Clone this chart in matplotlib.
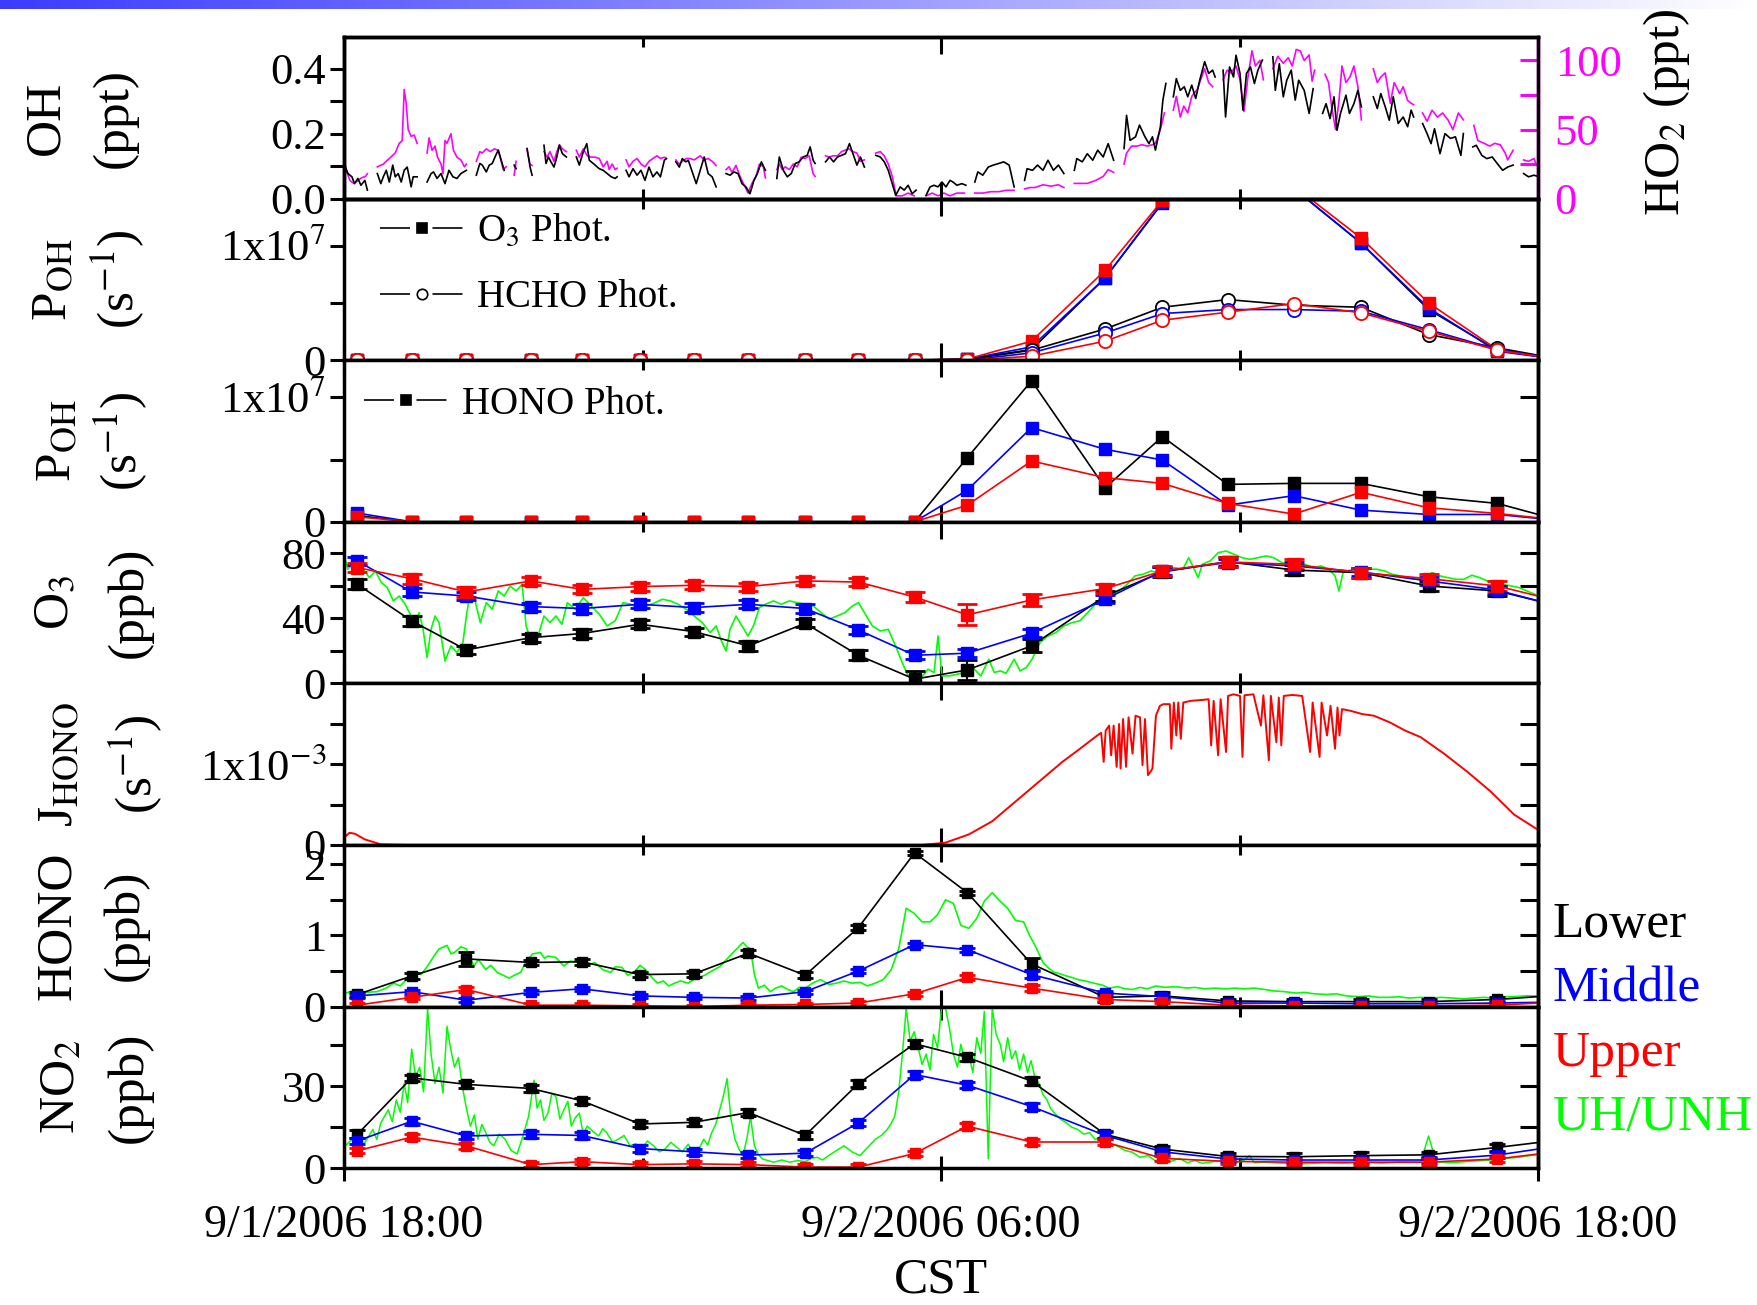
import numpy as np
import matplotlib.pyplot as plt
from matplotlib.lines import Line2D
from matplotlib.ticker import NullFormatter
from matplotlib.colors import LinearSegmentedColormap

plt.rcParams['font.family'] = ['Liberation Serif', 'DejaVu Serif']
plt.rcParams['mathtext.fontset'] = 'stix'

BLACK = 'black'
BLUE = '#0000ff'
RED = '#ff0000'
GREEN = '#00ff00'
MAGENTA = '#ff00ff'

# x axis: hours after 9/1/2006 18:00 CST
t_pts = [0.27, 1.36, 2.46, 3.76, 4.78, 5.95, 7.03, 8.13, 9.27, 10.34, 11.47,
         12.53, 13.82, 15.30, 16.45, 17.76, 19.09, 20.44, 21.80, 23.18, 24.55]

# ---- OH (ppt) and HO2 (ppt), segments separated by data gaps ----
oh_segments = [
    [(0.00, 0.108), (0.08, 0.077), (0.16, 0.067), (0.21, 0.046), (0.28, 0.062), (0.34, 0.041), (0.42, 0.056), (0.47, 0.026)],
    [(0.67, 0.077), (0.74, 0.046), (0.79, 0.067), (0.85, 0.087), (0.91, 0.051), (0.98, 0.103), (1.03, 0.067), (1.09, 0.077),
     (1.15, 0.051), (1.21, 0.087), (1.27, 0.097), (1.31, 0.067), (1.35, 0.036), (1.39, 0.067), (1.47, 0.067)],
    [(1.67, 0.051), (1.75, 0.077), (1.80, 0.082), (1.87, 0.062), (1.95, 0.077), (2.03, 0.046), (2.11, 0.087), (2.19, 0.067),
     (2.27, 0.062), (2.35, 0.077), (2.46, 0.087)],
    [(2.66, 0.072), (2.73, 0.108), (2.78, 0.103), (2.86, 0.082), (2.92, 0.103), (2.98, 0.108), (3.05, 0.133), (3.10, 0.149),
     (3.16, 0.118), (3.22, 0.087)],
    [(3.42, 0.103), (3.46, 0.092)],
    [(3.68, 0.154), (3.74, 0.097), (3.78, 0.072)],
    [(4.02, 0.164), (4.06, 0.108), (4.11, 0.128), (4.16, 0.113), (4.22, 0.097), (4.27, 0.123), (4.33, 0.164), (4.39, 0.138), (4.47, 0.128)],
    [(4.67, 0.128), (4.73, 0.103), (4.81, 0.144), (4.88, 0.169), (4.93, 0.118), (5.01, 0.108), (5.13, 0.092), (5.21, 0.087),
     (5.29, 0.077), (5.37, 0.067), (5.45, 0.062), (5.49, 0.067)],
    [(5.67, 0.087), (5.73, 0.067), (5.81, 0.092), (5.89, 0.072), (5.97, 0.087), (6.05, 0.056), (6.13, 0.097), (6.21, 0.067),
     (6.29, 0.082), (6.36, 0.067), (6.44, 0.118), (6.48, 0.123)],
    [(6.67, 0.113), (6.74, 0.097), (6.80, 0.123), (6.87, 0.113), (6.92, 0.118), (7.00, 0.082), (7.08, 0.046), (7.16, 0.087),
     (7.24, 0.128), (7.32, 0.077), (7.40, 0.067), (7.48, 0.036)],
    [(7.68, 0.077), (7.76, 0.072), (7.84, 0.082), (7.92, 0.077), (8.00, 0.046), (8.08, 0.036), (8.16, 0.015), (8.24, 0.056),
     (8.31, 0.077), (8.39, 0.113), (8.47, 0.087)],
    [(8.70, 0.062), (8.75, 0.128), (8.83, 0.087), (8.91, 0.067), (8.99, 0.077), (9.07, 0.108), (9.15, 0.113), (9.23, 0.128),
     (9.31, 0.133), (9.37, 0.159), (9.43, 0.118), (9.47, 0.108)],
    [(9.68, 0.113), (9.76, 0.128), (9.84, 0.113), (9.92, 0.128), (10.00, 0.133), (10.08, 0.138), (10.16, 0.169), (10.23, 0.138),
     (10.31, 0.103), (10.38, 0.128), (10.46, 0.097)],
    [(10.69, 0.133), (10.78, 0.128), (10.86, 0.113), (10.94, 0.087), (11.02, 0.046), (11.09, 0.010), (11.18, 0.036), (11.26, 0.026),
     (11.34, 0.041), (11.42, 0.015), (11.50, 0.026)],
    [(11.70, 0.010), (11.78, 0.036), (11.86, 0.041), (11.94, 0.036), (12.02, 0.051), (12.10, 0.036), (12.18, 0.056), (12.24, 0.051),
     (12.32, 0.041), (12.42, 0.046), (12.50, 0.041)],
    [(12.68, 0.051), (12.74, 0.082), (12.84, 0.072), (12.95, 0.097), (13.05, 0.103), (13.16, 0.108), (13.26, 0.113), (13.37, 0.103), (13.47, 0.036)],
    [(13.68, 0.056), (13.73, 0.092), (13.84, 0.087), (13.94, 0.103), (14.05, 0.087), (14.15, 0.118), (14.26, 0.087), (14.36, 0.103), (14.47, 0.077)],
    [(14.68, 0.087), (14.73, 0.123), (14.84, 0.113), (14.94, 0.138), (15.05, 0.118), (15.15, 0.149), (15.26, 0.128), (15.36, 0.169), (15.47, 0.118)],
    [(15.68, 0.154), (15.73, 0.256), (15.80, 0.179), (15.91, 0.190), (15.99, 0.226), (16.10, 0.190), (16.18, 0.169), (16.25, 0.190),
     (16.31, 0.149), (16.41, 0.221), (16.46, 0.303), (16.52, 0.354)],
    [(16.67, 0.313), (16.73, 0.369), (16.81, 0.333), (16.89, 0.344), (16.96, 0.313), (17.04, 0.349), (17.12, 0.308), (17.20, 0.364),
     (17.30, 0.421), (17.38, 0.385), (17.46, 0.395), (17.51, 0.374)],
    [(17.67, 0.395), (17.72, 0.251), (17.80, 0.405), (17.88, 0.374), (17.93, 0.441), (18.01, 0.385), (18.07, 0.272), (18.14, 0.385),
     (18.22, 0.405), (18.30, 0.354), (18.37, 0.395), (18.46, 0.426)],
    [(18.67, 0.436), (18.72, 0.333), (18.80, 0.415), (18.88, 0.313), (18.95, 0.364), (19.04, 0.395), (19.12, 0.303), (19.19, 0.364),
     (19.30, 0.333), (19.40, 0.262), (19.48, 0.338)],
    [(19.67, 0.262), (19.74, 0.292), (19.82, 0.246), (19.90, 0.313), (19.96, 0.210), (20.03, 0.262), (20.14, 0.318), (20.21, 0.262),
     (20.30, 0.292), (20.38, 0.333), (20.45, 0.282)],
    [(20.69, 0.313), (20.77, 0.277), (20.84, 0.323), (20.93, 0.282), (21.01, 0.241), (21.09, 0.313), (21.19, 0.231), (21.29, 0.251),
     (21.38, 0.221), (21.45, 0.272), (21.50, 0.251)],
    [(21.68, 0.231), (21.77, 0.200), (21.85, 0.169), (21.92, 0.215), (22.03, 0.138), (22.13, 0.200), (22.24, 0.185), (22.34, 0.190),
     (22.45, 0.133), (22.50, 0.200)],
    [(22.69, 0.159), (22.76, 0.164), (22.87, 0.133), (22.97, 0.123), (23.08, 0.128), (23.18, 0.108), (23.29, 0.087), (23.39, 0.097), (23.50, 0.103)],
    [(23.71, 0.077), (23.81, 0.067), (23.92, 0.072), (24.02, 0.067)],
]

ho2_segments = [
    [(0.00, 30), (0.04, 21), (0.12, 13), (0.20, 11), (0.28, 13), (0.35, 15), (0.43, 16), (0.47, 18)],
    [(0.67, 23), (0.79, 25), (0.91, 29), (1.03, 33), (1.11, 40), (1.17, 42), (1.21, 79), (1.25, 69), (1.29, 50), (1.35, 45),
     (1.41, 46), (1.47, 40)],
    [(1.67, 33), (1.71, 44), (1.77, 35), (1.83, 38), (1.88, 30), (1.95, 25), (1.99, 18), (2.03, 42), (2.07, 40), (2.15, 47),
     (2.20, 35), (2.27, 30), (2.35, 28), (2.42, 23), (2.46, 25)],
    [(2.66, 27), (2.73, 34), (2.78, 33), (2.86, 36), (2.94, 34), (3.02, 36), (3.10, 35), (3.16, 27), (3.20, 21), (3.26, 23)],
    [(3.42, 17), (3.46, 27)],
    [(3.68, 35), (3.74, 25), (3.78, 24)],
    [(4.02, 34), (4.08, 30), (4.14, 34), (4.22, 27), (4.27, 33), (4.33, 39), (4.39, 36), (4.47, 34)],
    [(4.67, 35), (4.73, 30), (4.81, 36), (4.89, 31), (4.97, 30), (5.05, 30), (5.13, 29), (5.21, 23), (5.29, 27), (5.33, 21),
     (5.39, 25), (5.45, 21), (5.49, 22)],
    [(5.67, 28), (5.73, 23), (5.81, 27), (5.89, 29), (5.97, 25), (6.05, 23), (6.13, 27), (6.21, 29), (6.29, 31), (6.36, 29),
     (6.44, 30), (6.48, 29)],
    [(6.67, 28), (6.74, 25), (6.80, 27), (6.88, 29), (6.96, 29), (7.04, 28), (7.16, 31), (7.24, 28), (7.32, 29), (7.40, 27), (7.48, 24)],
    [(7.68, 21), (7.74, 23), (7.80, 19), (7.88, 24), (7.96, 16), (8.04, 10), (8.12, 4), (8.20, 11), (8.28, 16), (8.35, 25),
     (8.43, 23), (8.47, 15)],
    [(8.70, 21), (8.75, 25), (8.81, 21), (8.87, 23), (8.95, 21), (9.03, 25), (9.11, 23), (9.19, 30), (9.27, 29), (9.35, 31),
     (9.43, 18), (9.47, 16)],
    [(9.68, 31), (9.75, 30), (9.83, 31), (9.92, 31), (10.00, 34), (10.07, 35), (10.15, 36), (10.23, 34), (10.31, 33), (10.38, 27), (10.46, 28)],
    [(10.69, 33), (10.78, 34), (10.86, 31), (10.94, 25), (11.02, 16), (11.10, 2), (11.22, 2), (11.34, 4), (11.46, 2)],
    [(11.70, 2), (11.82, 4), (11.94, 2), (12.06, 4), (12.18, 2), (12.32, 4), (12.47, 4)],
    [(12.68, 4), (12.84, 4), (13.00, 5), (13.16, 5), (13.31, 6), (13.47, 6)],
    [(13.68, 7), (13.79, 8), (13.89, 8), (14.05, 10), (14.21, 9), (14.36, 10), (14.47, 8)],
    [(14.68, 11), (14.78, 11), (14.94, 11), (15.10, 13), (15.26, 16), (15.36, 21), (15.47, 19)],
    [(15.68, 25), (15.73, 33), (15.83, 38), (15.94, 38), (16.04, 39), (16.15, 38), (16.25, 39), (16.31, 40), (16.41, 50), (16.49, 62)],
    [(16.67, 64), (16.73, 74), (16.81, 59), (16.88, 67), (16.96, 62), (17.04, 74), (17.15, 79), (17.22, 86), (17.30, 94),
     (17.38, 84), (17.46, 81)],
    [(17.67, 86), (17.75, 93), (17.83, 91), (17.93, 96), (18.01, 86), (18.09, 63), (18.17, 88), (18.25, 107), (18.32, 96),
     (18.41, 100), (18.48, 86)],
    [(18.67, 94), (18.77, 103), (18.88, 98), (18.98, 102), (19.06, 96), (19.14, 108), (19.22, 107), (19.30, 100), (19.40, 104),
     (19.46, 85), (19.51, 93)],
    [(19.72, 90), (19.79, 84), (19.85, 67), (19.93, 50), (20.00, 71), (20.06, 96), (20.14, 84), (20.22, 88), (20.30, 96),
     (20.38, 81), (20.45, 57)],
    [(20.69, 94), (20.77, 84), (20.84, 88), (20.93, 91), (21.03, 69), (21.11, 84), (21.22, 76), (21.29, 81), (21.38, 71),
     (21.45, 69), (21.50, 68)],
    [(21.68, 62), (21.77, 56), (21.87, 64), (21.98, 59), (22.08, 62), (22.19, 57), (22.29, 50), (22.40, 62), (22.50, 57)],
    [(22.71, 53), (22.79, 42), (22.92, 40), (23.03, 38), (23.13, 40), (23.24, 39), (23.34, 33), (23.39, 28), (23.50, 35)],
    [(23.71, 28), (23.81, 27), (23.92, 29), (23.97, 24)],
]

# ---- P_OH from O3 and HCHO photolysis (units of 1e7 s^-1) ----
o3phot_lower = [0, 0, 0, 0, 0, 0, 0, 0, 0, 0, 0, 0.01, 0.093, 0.718, 1.372, 1.62, 1.50, 1.023, 0.442, 0.087, 0.0]
o3phot_middle = [0, 0, 0, 0, 0, 0, 0, 0, 0, 0, 0, 0.01, 0.116, 0.718, 1.378, 1.62, 1.50, 1.023, 0.456, 0.078, 0.0]
o3phot_upper = [0, 0, 0, 0, 0, 0, 0, 0, 0, 0, 0, 0.01, 0.166, 0.785, 1.395, 1.65, 1.52, 1.067, 0.500, 0.093, 0.0]
hcho_lower = [0, 0, 0, 0, 0, 0, 0, 0, 0, 0, 0, 0.006, 0.087, 0.273, 0.462, 0.529, 0.48, 0.462, 0.224, 0.108, 0.0]
hcho_middle = [0, 0, 0, 0, 0, 0, 0, 0, 0, 0, 0, 0.0, 0.064, 0.238, 0.407, 0.442, 0.442, 0.427, 0.267, 0.093, 0.0]
hcho_upper = [0, 0, 0, 0, 0, 0, 0, 0, 0, 0, 0, 0.0, 0.035, 0.166, 0.349, 0.419, 0.494, 0.413, 0.253, 0.087, 0.0]

# ---- P_OH from HONO photolysis (units of 1e7 s^-1) ----
honophot_lower = [0.05, 0, 0, 0, 0, 0, 0, 0, 0, 0, 0, 0.516, 1.134, 0.274, 0.685, 0.301, 0.309, 0.309, 0.202, 0.148, 0.0]
honophot_middle = [0.07, 0, 0, 0, 0, 0, 0, 0, 0, 0, 0, 0.255, 0.758, 0.583, 0.497, 0.134, 0.210, 0.094, 0.059, 0.059, 0.006]
honophot_upper = [0.04, 0, 0, 0, 0, 0, 0, 0, 0, 0, 0, 0.134, 0.489, 0.355, 0.309, 0.148, 0.062, 0.237, 0.113, 0.067, 0.009]

# ---- O3 (ppb) ----
o3_lower = [61.0, 38.5, 20.6, 28.2, 30.7, 36.4, 31.9, 23.1, 37.0, 17.3, 2.6, 8.3, 23.1, 53.8, 68.6, 75.0, 69.8, 68.2, 60.0, 56.9, 46.7]
o3_middle = [75.4, 56.3, 53.8, 47.3, 46.1, 48.7, 46.7, 48.7, 46.1, 32.9, 17.3, 18.6, 30.9, 51.8, 69.2, 74.4, 72.3, 68.6, 63.1, 57.5, 46.3]
o3_upper = [71.3, 64.5, 56.3, 63.1, 57.9, 59.6, 60.4, 59.6, 63.1, 62.4, 53.2, 42.2, 51.4, 58.4, 69.2, 74.8, 73.3, 68.2, 64.5, 60.0, 49.6]
o3_lower_err = [3, 3, 2.5, 2.5, 2.5, 2.5, 2.5, 3, 2.5, 3, 5, 6, 4, 3, 3, 3, 3, 3, 3, 3, 3]
o3_middle_err = [2.5, 2.5, 2.5, 2.5, 2.5, 2.5, 2.5, 2.5, 2.5, 2.5, 2.5, 2.5, 2.5, 2.5, 2.5, 2.5, 2.5, 2.5, 2.5, 2.5, 2.5]
o3_upper_err = [3, 3, 3, 2.5, 2.5, 2.5, 2.5, 2.5, 2.5, 2.5, 3, 6.5, 3.5, 3, 3, 3, 3, 3, 3, 3, 3]
o3_uh = [(0.02, 76.4), (0.08, 70.3), (0.16, 74.4), (0.28, 67.2), (0.39, 70.3), (0.51, 65.1), (0.63, 69.2), (0.75, 62.1),
         (0.87, 59.0), (0.99, 50.8), (1.11, 53.8), (1.23, 48.7), (1.35, 41.5), (1.43, 35.4), (1.51, 43.6), (1.59, 33.3),
         (1.67, 15.9), (1.75, 33.3), (1.83, 41.5), (1.91, 37.4), (2.03, 13.8), (2.15, 23.1), (2.27, 19.0), (2.39, 25.1),
         (2.46, 41.5), (2.54, 56.9), (2.62, 52.8), (2.74, 37.4), (2.86, 49.7), (2.98, 45.6), (3.10, 56.9), (3.22, 53.8),
         (3.34, 60.0), (3.46, 56.9), (3.58, 61.0), (3.66, 35.4), (3.78, 24.1), (3.90, 29.2), (4.02, 41.5), (4.14, 37.4),
         (4.26, 41.5), (4.38, 36.4), (4.49, 49.7), (4.65, 45.6), (4.81, 52.8), (4.97, 47.7), (5.13, 42.6), (5.29, 35.4),
         (5.45, 38.5), (5.61, 49.7), (5.77, 48.7), (5.93, 45.6), (6.09, 47.7), (6.25, 49.7), (6.40, 51.8), (6.56, 50.8),
         (6.72, 48.7), (6.88, 45.6), (7.04, 41.5), (7.20, 37.4), (7.36, 31.3), (7.48, 35.4), (7.60, 25.1), (7.68, 20.0),
         (7.76, 33.3), (7.88, 41.5), (8.00, 35.4), (8.12, 29.2), (8.23, 35.4), (8.35, 46.7), (8.47, 48.7), (8.63, 50.8),
         (8.79, 48.7), (8.95, 50.8), (9.11, 49.7), (9.27, 48.7), (9.43, 47.7), (9.59, 43.6), (9.75, 39.5), (9.91, 41.5),
         (10.07, 43.6), (10.22, 47.7), (10.34, 49.7), (10.46, 43.6), (10.62, 35.4), (10.78, 32.3), (10.94, 33.3), (11.10, 22.1),
         (11.22, 12.8), (11.34, 4.6), (11.46, 6.7), (11.58, 2.6), (11.74, 8.7), (11.86, 6.7), (11.94, 29.2), (12.02, 4.6),
         (12.16, 4.6), (12.32, 5.6), (12.48, 6.7), (12.64, 9.7), (12.80, 4.6), (12.96, 14.9), (13.07, 6.7), (13.19, 7.7),
         (13.31, 6.3), (13.47, 14.9), (13.59, 7.7), (13.71, 9.7), (13.83, 14.9), (13.99, 25.1), (14.15, 29.2), (14.31, 31.3),
         (14.47, 35.4), (14.63, 37.4), (14.79, 38.5), (14.95, 43.6), (15.10, 48.7), (15.26, 50.8), (15.42, 53.8), (15.58, 56.9),
         (15.74, 61.0), (15.90, 66.2), (16.06, 67.2), (16.22, 69.2), (16.38, 68.2), (16.54, 70.3), (16.70, 71.3), (16.86, 70.3),
         (16.98, 77.4), (17.09, 70.3), (17.17, 65.1), (17.25, 73.3), (17.41, 75.4), (17.57, 80.5), (17.73, 81.5), (17.89, 79.5),
         (18.05, 77.4), (18.21, 76.4), (18.37, 77.4), (18.53, 78.5), (18.69, 77.4), (18.85, 74.4), (19.00, 73.3), (19.16, 71.3),
         (19.32, 73.3), (19.48, 71.3), (19.64, 72.3), (19.80, 70.3), (19.92, 66.2), (20.00, 56.9), (20.08, 68.2), (20.28, 70.3),
         (20.44, 69.2), (20.60, 70.3), (20.76, 70.3), (20.92, 69.2), (21.07, 67.2), (21.23, 66.2), (21.39, 65.1), (21.55, 64.1),
         (21.71, 65.1), (21.87, 68.2), (22.03, 66.2), (22.19, 65.1), (22.35, 64.1), (22.51, 64.1), (22.67, 66.6), (22.83, 65.1),
         (22.98, 63.1), (23.14, 62.1), (23.30, 61.0), (23.46, 60.0), (23.62, 59.0), (23.78, 56.9), (23.94, 54.8), (24.06, 53.8)]

# ---- J_HONO (units of 1e-3 s^-1) ----
j_hono = [(0.00, 0.090), (0.11, 0.151), (0.22, 0.139), (0.42, 0.069), (0.74, 0.008), (1.28, 0.0), (11.62, 0.0), (12.09, 0.029),
          (12.56, 0.131), (13.03, 0.294), (13.50, 0.539), (13.97, 0.784), (14.44, 1.029), (14.75, 1.171), (15.14, 1.355),
          (15.22, 1.388), (15.27, 1.029), (15.31, 1.416), (15.38, 1.478), (15.42, 1.110), (15.47, 1.478), (15.53, 0.967),
          (15.58, 1.498), (15.61, 0.947), (15.66, 1.559), (15.72, 0.967), (15.77, 1.580), (15.85, 1.131), (15.91, 1.600),
          (16.00, 1.580), (16.05, 0.988), (16.10, 1.559), (16.16, 0.865), (16.21, 0.906), (16.25, 0.947), (16.32, 1.600),
          (16.40, 1.722), (16.47, 1.743), (16.60, 1.743), (16.63, 1.192), (16.68, 1.763), (16.73, 1.355), (16.77, 1.763),
          (16.82, 1.314), (16.87, 1.763), (17.02, 1.784), (17.26, 1.796), (17.38, 1.804), (17.43, 1.233), (17.48, 1.784),
          (17.57, 1.110), (17.62, 1.804), (17.73, 1.151), (17.77, 1.845), (17.88, 1.865), (18.01, 1.845), (18.06, 1.090),
          (18.10, 1.853), (18.28, 1.865), (18.43, 1.478), (18.48, 1.853), (18.59, 1.049), (18.63, 1.845), (18.74, 1.273),
          (18.79, 1.824), (18.84, 1.233), (18.89, 1.845), (19.06, 1.857), (19.26, 1.845), (19.42, 1.151), (19.47, 1.763),
          (19.61, 1.090), (19.65, 1.763), (19.76, 1.355), (19.83, 1.722), (19.92, 1.192), (19.97, 1.702), (20.01, 1.355),
          (20.06, 1.682), (20.23, 1.661), (20.47, 1.620), (20.70, 1.600), (21.02, 1.518), (21.33, 1.416), (21.64, 1.335),
          (22.11, 1.131), (22.58, 0.906), (23.05, 0.661), (23.52, 0.376), (23.99, 0.192)]

# ---- HONO (ppb) ----
hono_lower = [0.17, 0.43, 0.67, 0.62, 0.63, 0.45, 0.46, 0.75, 0.44, 1.11, 2.16, 1.60, 0.60, 0.13, 0.15, 0.08, 0.07, 0.07, 0.07, 0.10, 0.167]
hono_middle = [0.15, 0.21, 0.09, 0.20, 0.25, 0.15, 0.13, 0.12, 0.21, 0.50, 0.87, 0.80, 0.45, 0.19, 0.14, 0.05, 0.05, 0.04, 0.04, 0.05, 0.067]
hono_upper = [0.02, 0.13, 0.24, 0.02, 0.02, 0.01, 0.0, 0.02, 0.03, 0.05, 0.18, 0.41, 0.26, 0.10, 0.07, 0.02, 0.01, 0.01, 0.01, 0.02, 0.07]
hono_lower_err = [0.03, 0.04, 0.10, 0.04, 0.04, 0.04, 0.04, 0.04, 0.04, 0.04, 0.03, 0.03, 0.08, 0.06, 0.05, 0.03, 0.03, 0.03, 0.03, 0.03, 0.03]
hono_middle_err = [0.03, 0.03, 0.03, 0.03, 0.03, 0.03, 0.03, 0.03, 0.03, 0.03, 0.03, 0.03, 0.05, 0.03, 0.03, 0.03, 0.03, 0.03, 0.03, 0.03, 0.03]
hono_upper_err = [0.025, 0.025, 0.04, 0.025, 0.025, 0.025, 0.025, 0.025, 0.025, 0.025, 0.025, 0.03, 0.04, 0.025, 0.025, 0.025, 0.025, 0.025, 0.025, 0.025, 0.025]
hono_uh = [(0.03, 0.19), (0.27, 0.24), (0.45, 0.20), (0.66, 0.21), (0.85, 0.26), (1.00, 0.33), (1.13, 0.29), (1.30, 0.41),
           (1.44, 0.48), (1.55, 0.45), (1.68, 0.57), (1.80, 0.70), (1.91, 0.81), (2.07, 0.86), (2.15, 0.74), (2.22, 0.76),
           (2.35, 0.84), (2.46, 0.81), (2.61, 0.57), (2.70, 0.66), (2.85, 0.52), (2.95, 0.58), (3.08, 0.48), (3.20, 0.44),
           (3.32, 0.40), (3.45, 0.45), (3.55, 0.48), (3.65, 0.62), (3.79, 0.74), (3.95, 0.76), (4.03, 0.68), (4.10, 0.71),
           (4.26, 0.69), (4.35, 0.62), (4.42, 0.57), (4.55, 0.64), (4.73, 0.62), (4.90, 0.58), (5.04, 0.62), (5.20, 0.52),
           (5.36, 0.48), (5.45, 0.56), (5.59, 0.55), (5.70, 0.44), (5.83, 0.48), (5.95, 0.58), (6.06, 0.52), (6.20, 0.40),
           (6.30, 0.33), (6.42, 0.36), (6.53, 0.29), (6.65, 0.33), (6.76, 0.36), (6.92, 0.33), (7.08, 0.40), (7.25, 0.44),
           (7.39, 0.50), (7.55, 0.56), (7.70, 0.67), (7.85, 0.78), (8.02, 0.90), (8.10, 0.84), (8.17, 0.81), (8.25, 0.45),
           (8.33, 0.26), (8.45, 0.30), (8.57, 0.21), (8.68, 0.26), (8.80, 0.29), (8.92, 0.24), (9.04, 0.21), (9.15, 0.27),
           (9.27, 0.26), (9.42, 0.33), (9.58, 0.38), (9.75, 0.31), (9.90, 0.33), (10.05, 0.36), (10.21, 0.33), (10.38, 0.34),
           (10.52, 0.29), (10.68, 0.33), (10.84, 0.38), (11.00, 0.52), (11.15, 0.81), (11.30, 1.38), (11.46, 1.31),
           (11.62, 1.19), (11.78, 1.19), (11.93, 1.29), (12.09, 1.50), (12.25, 1.45), (12.40, 1.14), (12.56, 1.10),
           (12.72, 1.24), (12.87, 1.48), (13.03, 1.60), (13.19, 1.48), (13.34, 1.38), (13.50, 1.21), (13.66, 1.19),
           (13.78, 1.00), (13.89, 0.86), (14.05, 0.62), (14.18, 0.53), (14.28, 0.48), (14.40, 0.46), (14.52, 0.43),
           (14.63, 0.41), (14.75, 0.38), (14.90, 0.36), (15.07, 0.33), (15.25, 0.30), (15.38, 0.26), (15.55, 0.28),
           (15.70, 0.25), (15.85, 0.24), (16.00, 0.27), (16.15, 0.25), (16.32, 0.29), (16.50, 0.27), (16.70, 0.28),
           (16.94, 0.26), (17.10, 0.27), (17.30, 0.25), (17.50, 0.26), (17.73, 0.25), (17.90, 0.26), (18.10, 0.25),
           (18.30, 0.26), (18.51, 0.24), (18.70, 0.22), (18.90, 0.21), (19.14, 0.19), (19.30, 0.20), (19.50, 0.18),
           (19.76, 0.17), (19.95, 0.18), (20.15, 0.15), (20.39, 0.14), (20.60, 0.15), (20.80, 0.13), (21.02, 0.13),
           (21.20, 0.14), (21.40, 0.12), (21.64, 0.13), (21.85, 0.12), (22.05, 0.13), (22.27, 0.12), (22.50, 0.11),
           (22.70, 0.12), (22.90, 0.13), (23.10, 0.12), (23.30, 0.14), (23.52, 0.14), (23.75, 0.15), (23.99, 0.15)]

# ---- NO2 (ppb) ----
no2_lower = [12.4, 33.1, 30.7, 29.2, 24.7, 16.2, 16.8, 20.4, 12.0, 31.0, 45.6, 40.6, 31.9, 12.4, 7.0, 4.3, 4.2, 4.6, 4.9, 7.6, 10.6]
no2_middle = [10.0, 17.2, 11.8, 12.4, 12.0, 7.2, 6.0, 4.8, 5.5, 16.6, 34.3, 30.4, 22.6, 12.0, 6.0, 3.4, 3.0, 3.0, 3.0, 4.8, 8.5]
no2_upper = [6.4, 11.4, 8.2, 1.3, 2.4, 1.3, 1.6, 1.3, 0.4, 0.4, 5.4, 15.4, 9.6, 9.6, 3.6, 2.5, 2.2, 2.2, 2.2, 3.4, 6.4]
no2_lower_err = [1.5, 1.2, 1.2, 1.2, 1.2, 1.2, 1.2, 1.2, 1.2, 1.2, 1.2, 1.2, 1.5, 1.2, 1.2, 1.2, 1.2, 1.2, 1.2, 1.2, 1.2]
no2_middle_err = [1.2, 1.2, 1.2, 1.2, 1.2, 1.2, 1.2, 1.2, 1.2, 1.2, 1.2, 1.2, 1.2, 1.2, 1.2, 1.2, 1.2, 1.2, 1.2, 1.2, 1.2]
no2_upper_err = [1.0, 1.0, 1.0, 1.0, 1.0, 1.0, 1.0, 1.0, 1.0, 1.0, 1.0, 1.2, 1.0, 1.0, 1.0, 1.0, 1.0, 1.0, 1.0, 1.0, 1.0]
no2_uh = [(0.03, 8.2), (0.19, 11.2), (0.30, 7.5), (0.42, 9.4), (0.58, 14.2), (0.66, 10.5), (0.74, 16.6), (0.89, 21.4),
          (0.97, 17.0), (1.05, 25.0), (1.13, 20.5), (1.21, 31.0), (1.28, 24.0), (1.36, 43.6), (1.44, 33.4), (1.52, 37.0),
          (1.60, 28.0), (1.68, 58.6), (1.75, 41.8), (1.83, 31.0), (1.91, 37.0), (1.99, 27.5), (2.07, 52.0), (2.14, 44.2),
          (2.22, 37.0), (2.30, 40.5), (2.38, 29.8), (2.46, 22.0), (2.54, 15.4), (2.62, 19.5), (2.69, 10.6), (2.77, 16.0),
          (2.85, 13.0), (2.93, 9.5), (3.01, 8.2), (3.12, 12.5), (3.24, 10.6), (3.36, 6.5), (3.48, 5.2), (3.60, 12.0),
          (3.71, 19.0), (3.82, 32.2), (3.88, 22.0), (3.95, 25.0), (4.02, 17.5), (4.10, 20.2), (4.18, 27.5), (4.26, 26.2),
          (4.34, 18.0), (4.42, 21.4), (4.50, 24.5), (4.57, 15.4), (4.65, 18.5), (4.73, 20.2), (4.81, 12.5), (4.89, 15.4),
          (5.00, 13.5), (5.12, 11.8), (5.20, 14.5), (5.28, 13.0), (5.40, 9.5), (5.51, 10.6), (5.63, 12.0), (5.75, 8.2),
          (5.86, 9.0), (5.98, 7.0), (6.10, 10.0), (6.22, 8.2), (6.34, 6.0), (6.45, 7.0), (6.57, 9.5), (6.69, 7.6),
          (6.80, 6.0), (6.92, 8.8), (7.00, 6.0), (7.08, 4.6), (7.16, 8.0), (7.23, 10.6), (7.31, 8.5), (7.39, 13.0),
          (7.47, 16.0), (7.55, 21.4), (7.62, 26.0), (7.70, 32.8), (7.78, 17.8), (7.86, 10.6), (7.94, 7.0), (8.02, 4.6),
          (8.10, 11.0), (8.17, 19.0), (8.25, 8.2), (8.33, 5.0), (8.41, 3.4), (8.52, 2.8), (8.64, 2.2), (8.80, 3.0),
          (8.96, 2.2), (9.12, 2.8), (9.27, 2.4), (9.39, 3.6), (9.51, 4.0), (9.62, 3.0), (9.74, 4.6), (9.90, 6.5),
          (10.05, 8.2), (10.21, 6.0), (10.37, 4.6), (10.52, 7.5), (10.68, 10.6), (10.80, 12.0), (10.92, 14.2),
          (11.00, 16.5), (11.07, 19.0), (11.15, 28.0), (11.23, 43.0), (11.30, 58.6), (11.38, 46.6), (11.46, 50.0),
          (11.54, 44.2), (11.62, 38.0), (11.70, 41.8), (11.78, 36.0), (11.85, 49.0), (11.93, 44.0), (12.01, 58.6),
          (12.09, 58.6), (12.17, 51.4), (12.25, 41.8), (12.33, 37.0), (12.40, 45.4), (12.48, 39.0), (12.56, 41.8),
          (12.64, 35.0), (12.72, 47.8), (12.80, 42.0), (12.87, 57.4), (12.95, 3.4), (13.03, 58.6), (13.11, 49.0),
          (13.19, 45.4), (13.26, 39.0), (13.34, 47.8), (13.42, 40.0), (13.50, 43.0), (13.58, 36.0), (13.66, 41.8),
          (13.74, 35.0), (13.81, 39.4), (13.89, 33.0), (13.97, 31.0), (14.05, 27.0), (14.13, 25.0), (14.20, 22.0),
          (14.28, 20.2), (14.40, 18.0), (14.52, 16.6), (14.63, 15.0), (14.75, 14.2), (14.87, 12.5), (14.99, 13.0),
          (15.10, 10.5), (15.22, 11.8), (15.38, 9.0), (15.53, 8.2), (15.70, 6.5), (15.85, 5.8), (16.00, 4.0),
          (16.16, 4.6), (16.30, 2.8), (16.47, 3.4), (16.63, 2.5), (16.79, 3.6), (16.95, 2.0), (17.10, 2.8),
          (17.25, 1.8), (17.41, 2.2), (17.57, 2.8), (17.73, 2.4), (17.95, 2.0), (18.10, 3.0), (18.20, 4.6),
          (18.30, 2.0), (18.51, 2.2), (18.90, 1.8), (19.29, 1.6), (19.70, 2.0), (20.08, 1.8), (20.47, 2.2),
          (20.86, 1.9), (21.25, 2.3), (21.64, 2.2), (21.80, 11.8), (21.95, 2.4), (22.20, 2.0), (22.42, 2.2),
          (22.65, 2.6), (22.90, 2.8), (23.15, 3.2), (23.37, 3.6), (23.60, 4.0), (23.83, 4.6), (24.07, 5.2)]

# ---------------- figure ----------------
W, H = 1758, 1305
fig = plt.figure(figsize=(W / 100, H / 100), dpi=100)

# slide header gradient strip
cmap = LinearSegmentedColormap.from_list('hdr', ['#3c3cff', '#9a9aff', '#ffffff'])
hdr = fig.add_axes([0, 1 - 9 / H, 1, 9 / H])
hdr.imshow(np.linspace(0, 1, 512)[None, :], aspect='auto', cmap=cmap)
hdr.axis('off')

x0, x1 = 344, 1538
top0, ph = 37, 161.6
axes = []
for i in range(7):
    b = 1 - (top0 + (i + 1) * ph) / H
    axes.append(fig.add_axes([x0 / W, b, (x1 - x0) / W, ph / H]))

TICK_FS = 32
LAB_FS = 37


def style(ax, ylim, major, minor, labels, right=True):
    ax.set_xlim(0, 24)
    ax.set_ylim(*ylim)
    ax.set_xticks([0, 12, 24])
    ax.set_xticks([6, 18], minor=True)
    ax.tick_params(axis='x', which='both', direction='in', top=True, bottom=True,
                   labelbottom=False, width=2.2)
    ax.tick_params(axis='x', which='major', length=12)
    ax.tick_params(axis='x', which='minor', length=7)
    ax.set_yticks(major)
    ax.set_yticklabels(labels)
    ax.set_yticks(minor, minor=True)
    ax.tick_params(axis='y', which='both', direction='out', left=True, right=False,
                   length=10, width=2.2, labelsize=TICK_FS, pad=3)
    for s in ax.spines.values():
        s.set_linewidth(2.5)
    if right:
        sec = ax.secondary_yaxis('right')
        sec.set_yticks(list(major) + list(minor))
        sec.yaxis.set_major_formatter(NullFormatter())
        sec.tick_params(axis='y', direction='in', length=13, width=2.2)
        sec.spines['right'].set_linewidth(2.5)


def seg_plot(ax, segments, **kw):
    for seg in segments:
        ax.plot([p[0] for p in seg], [p[1] for p in seg], **kw)


def key_handle(marker, fill):
    # Origin-style key: short line, gap, symbol, gap, short line
    line = Line2D([], [], color=BLACK, lw=1.2, dashes=(18.0, 13.5))
    sym = Line2D([], [], ls='none', marker=marker, ms=7.5, color=BLACK, mfc=fill, mew=1.2)
    return (line, sym)


# panel 1: OH / HO2
ax = axes[0]
seg_plot(ax, oh_segments, color=BLACK, lw=1.2, zorder=3)
style(ax, (0, 0.497), [0.0, 0.2, 0.4], [0.1, 0.3], ['0.0', '0.2', '0.4'], right=False)
axr = ax.twinx()
seg_plot(axr, ho2_segments, color=MAGENTA, lw=1.2)
axr.set_ylim(0, 117)
axr.set_yticks([0, 50, 100])
axr.set_yticks([25, 75], minor=True)
axr.tick_params(axis='y', which='both', direction='in', length=13, width=2.2, colors=MAGENTA,
                labelsize=TICK_FS, pad=12)
for s in axr.spines.values():
    s.set_linewidth(2.5)
axr.spines['right'].set_color(MAGENTA)
ax.set_zorder(axr.get_zorder() + 1)
ax.patch.set_visible(False)

# panel 2: P_OH from O3 and HCHO photolysis
ax = axes[1]
for vals, c in [(o3phot_lower, BLACK), (o3phot_middle, BLUE), (o3phot_upper, RED)]:
    ax.plot(t_pts, vals, '-s', color=c, lw=1.2, ms=8, mec=c)
for vals, c in [(hcho_lower, BLACK), (hcho_middle, BLUE), (hcho_upper, RED)]:
    ax.plot(t_pts, vals, '-o', color=c, lw=1.2, ms=9.5, mec=c, mfc='white', mew=1.3)
style(ax, (0, 1.41), [0, 1], [0.5], ['0', '1x10$^{7}$'])
ax.legend([key_handle('s', BLACK), key_handle('o', 'white')], ['O$_3$ Phot.', 'HCHO Phot.'],
          loc='upper left', bbox_to_anchor=(0.03, 0.91), frameon=False, fontsize=28,
          handlelength=2.15, handletextpad=0.35, labelspacing=0.75, borderaxespad=0, borderpad=0)

# panel 3: P_OH from HONO photolysis
ax = axes[2]
for vals, c in [(honophot_lower, BLACK), (honophot_middle, BLUE), (honophot_upper, RED)]:
    ax.plot(t_pts, vals, '-s', color=c, lw=1.2, ms=8.5, mec=c)
style(ax, (0, 1.30), [0, 1], [0.5], ['0', '1x10$^{7}$'])
ax.legend([key_handle('s', BLACK)], ['HONO Phot.'], loc='upper left', bbox_to_anchor=(0.017, 0.84),
          frameon=False, fontsize=28, handlelength=2.15, handletextpad=0.35,
          borderaxespad=0, borderpad=0)

# panel 4: O3
ax = axes[3]
ax.plot([p[0] for p in o3_uh], [p[1] for p in o3_uh], color=GREEN, lw=1.2)
for vals, err, c in [(o3_lower, o3_lower_err, BLACK), (o3_middle, o3_middle_err, BLUE), (o3_upper, o3_upper_err, RED)]:
    ax.errorbar(t_pts, vals, yerr=err, fmt='-s', color=c, lw=1.2, ms=8.5, mec=c,
                capsize=7.5, capthick=2, elinewidth=1.5)
style(ax, (0, 99.5), [0, 40, 80], [20, 60], ['0', '40', '80'])

# panel 5: J_HONO
ax = axes[4]
ax.plot([p[0] for p in j_hono], [p[1] for p in j_hono], color=RED, lw=1.4)
style(ax, (0, 2.0), [0, 1], [0.5, 1.5], ['0', '1x10$^{-3}$'])

# panel 6: HONO
ax = axes[5]
ax.plot([p[0] for p in hono_uh], [p[1] for p in hono_uh], color=GREEN, lw=1.2)
for vals, err, c in [(hono_lower, hono_lower_err, BLACK), (hono_middle, hono_middle_err, BLUE), (hono_upper, hono_upper_err, RED)]:
    ax.errorbar(t_pts, vals, yerr=err, fmt='-s', color=c, lw=1.2, ms=7.5, mec=c,
                capsize=5.5, capthick=2, elinewidth=1.5)
style(ax, (0, 2.27), [0, 1, 2], [0.5, 1.5], ['0', '1', '2'])

# panel 7: NO2
ax = axes[6]
ax.plot([p[0] for p in no2_uh], [p[1] for p in no2_uh], color=GREEN, lw=1.1)
for vals, err, c in [(no2_lower, no2_lower_err, BLACK), (no2_middle, no2_middle_err, BLUE), (no2_upper, no2_upper_err, RED)]:
    ax.errorbar(t_pts, vals, yerr=err, fmt='-s', color=c, lw=1.2, ms=7.5, mec=c,
                capsize=5.5, capthick=2, elinewidth=1.5)
style(ax, (0, 59.2), [0, 30], [15, 45], ['0', '30'])
ax.tick_params(axis='x', which='both', labelbottom=True, labelsize=33, pad=17)
ax.tick_params(axis='x', which='major', direction='inout', length=18)
ax.set_xticklabels(['9/1/2006 18:00', '9/2/2006 06:00', '9/2/2006 18:00'])
fig.text(941 / W, 1 - 1280 / H, 'CST', ha='center', va='center', fontsize=LAB_FS)

# left axis titles, two rotated columns per panel
ylabels = [('OH', '(ppt)', 46, 115),
           ('P$_{\\mathrm{OH}}$', '(s$^{-1}$)', 54, 118),
           ('P$_{\\mathrm{OH}}$', '(s$^{-1}$)', 58, 121),
           ('O$_3$', '(ppb)', 56, 130),
           ('J$_{\\mathrm{HONO}}$', '(s$^{-1}$)', 60, 136),
           ('HONO', '(ppb)', 58, 126),
           ('NO$_2$', '(ppb)', 62, 130)]
for i, (a, b, xa, xb) in enumerate(ylabels):
    yc = 1 - (top0 + (i + 0.5) * ph) / H
    fig.text(xa / W, yc, a, rotation=90, ha='center', va='center', fontsize=LAB_FS)
    fig.text(xb / W, yc, b, rotation=90, ha='center', va='center', fontsize=LAB_FS)

fig.text(1667 / W, 1 - 112 / H, 'HO$_2$ (ppt)', rotation=90, ha='center', va='center', fontsize=LAB_FS)

# right-hand series key
for lab, c, yy in [('Lower', BLACK, 925), ('Middle', BLUE, 989), ('Upper', RED, 1054), ('UH/UNH', GREEN, 1118)]:
    fig.text(1553 / W, 1 - yy / H, lab, color=c, ha='left', va='center', fontsize=LAB_FS)

fig.savefig('out.png', dpi=100)
